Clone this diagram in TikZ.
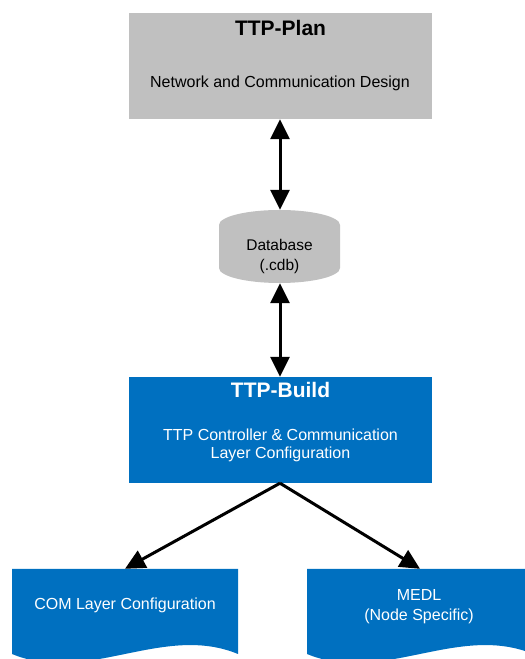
\documentclass[tikz,border=0pt]{standalone}
\usepackage{fontspec}
\setmainfont{Liberation Sans}
\usetikzlibrary{arrows.meta}
\definecolor{boxgray}{RGB}{192,192,192}
\definecolor{boxblue}{RGB}{0,112,192}
\begin{document}
\begin{tikzpicture}[x=1pt,y=1pt,
  titletext/.style={font=\fontsize{21}{24}\selectfont\bfseries, inner sep=0pt},
  bodytext/.style={font=\fontsize{16}{18}\selectfont, inner sep=0pt, align=center},
  link/.style={line width=3pt, -{Triangle[length=20pt,width=19pt]}},
  dlink/.style={line width=3pt, {Triangle[length=20pt,width=19pt]}-{Triangle[length=20pt,width=19pt]}}]
\useasboundingbox (0,0) rectangle (525,659);
% TTP-Plan
\node[fill=boxgray, minimum width=303pt, minimum height=106pt, inner sep=0pt] (plan) at (280.5,593) {};
\node[titletext] (plantitle) at (280.5,631) {TTP-Plan};
\node[bodytext] (plansub) at (280,576) {Network and Communication Design};
% Database cylinder
\node[minimum width=121pt, minimum height=73pt, inner sep=0pt] (db) at (279.5,412.5) {};
\fill[boxgray] (219,434) arc[start angle=180, end angle=0, x radius=60.5pt, y radius=15pt]
  -- (340,391) arc[start angle=0, end angle=-180, x radius=60.5pt, y radius=15pt] -- cycle;
\node[bodytext, font=\fontsize{15.5}{20}\selectfont] (dbtext) at (279.5,402.5) {Database\\(.cdb)};
% TTP-Build
\node[fill=boxblue, minimum width=303pt, minimum height=106pt, inner sep=0pt] (build) at (280.5,229) {};
\node[titletext, text=white] (buildtitle) at (280.5,269) {TTP-Build};
\node[bodytext, text=white] (buildsub) at (280.5,214) {TTP Controller \& Communication\\Layer Configuration};
% Documents
\node[minimum width=226pt, minimum height=90pt, inner sep=0pt] (ldoc) at (125,45) {};
\fill[boxblue] (12,90) -- (12,5) .. controls (87,-26) and (163,36) .. (238,5) -- (238,90) -- cycle;
\node[bodytext, text=white] (ldoctext) at (125,53.5) {COM Layer Configuration};
\node[minimum width=226pt, minimum height=90pt, inner sep=0pt] (rdoc) at (420,45) {};
\fill[boxblue] (307,90) -- (307,5) .. controls (382,-26) and (458,36) .. (533,5) -- (533,90) -- cycle;
\node[bodytext, text=white, font=\fontsize{16}{20}\selectfont] (rdoctext) at (419,52.5) {MEDL\\(Node Specific)};
% Connectors
\draw[dlink] (plan.south -| 280,0) -- (db.north -| 280,0);
\draw[dlink] (db.south -| 280,0) -- (build.north -| 280,0);
\draw[link] (build.south -| 280,0) -- (ldoc.north);
\draw[link] (build.south -| 280,0) -- (rdoc.north);
\end{tikzpicture}
\end{document}
